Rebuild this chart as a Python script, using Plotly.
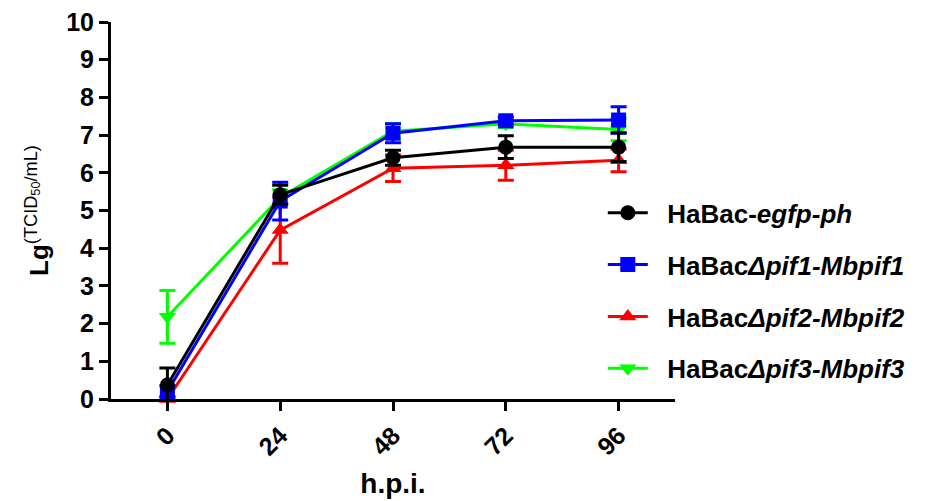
import plotly.graph_objects as go

hours = [0, 24, 48, 72, 96]
x_ticks = [0, 24, 48, 72, 96]
y_ticks = list(range(0, 11))

names = [
    "&nbsp;&nbsp;HaBac-<i>egfp-ph</i>",
    "&nbsp;&nbsp;HaBac<i>Δpif1-Mbpif1</i>",
    "&nbsp;&nbsp;HaBac<i>Δpif2-Mbpif2</i>",
    "&nbsp;&nbsp;HaBac<i>Δpif3-Mbpif3</i>",
]
egfp_vals = [0.37, 5.42, 6.40, 6.68, 6.68]
egfp_err = [0.45, 0.25, 0.20, 0.30, 0.38]
pif1_vals = [0.20, 5.25, 7.05, 7.38, 7.40]
pif1_err = [0.15, 0.50, 0.25, 0.10, 0.35]
pif2_vals = [0.00, 4.48, 6.12, 6.20, 6.33]
pif2_err = [0.05, 0.88, 0.35, 0.40, 0.30]
pif3_vals = [2.18, 5.35, 7.10, 7.30, 7.15]
pif3_err = [0.70, 0.20, 0.20, 0.10, 0.30]

colors = ["#000000", "#0000FF", "#FF0000", "#00FF00"]
symbols = ["circle", "square", "triangle-up", "triangle-down"]
series = [(egfp_vals, egfp_err), (pif1_vals, pif1_err), (pif2_vals, pif2_err), (pif3_vals, pif3_err)]

FONT = "Liberation Sans, Arial, sans-serif"

fig = go.Figure()
# draw green first, black last (on top)
for i in [3, 2, 1, 0]:
    vals, err = series[i]
    fig.add_trace(go.Scatter(
        x=hours, y=vals, name=names[i], mode="lines+markers",
        line=dict(color=colors[i], width=3),
        marker=dict(symbol=symbols[i], size=15, color=colors[i]),
        error_y=dict(type="data", array=err, visible=True, color=colors[i], thickness=3, width=8),
        legendrank=i + 1, legendgroup=f"g{i}", cliponaxis=False,
    ))

# page body has an 8px default margin, so the figure is sized to fit inside the window
fig.update_layout(
    width=917, height=493,
    margin=dict(l=103, r=250, t=14, b=102),
    paper_bgcolor="white", plot_bgcolor="white",
    font=dict(family=FONT, color="black", size=22),
    showlegend=True,
    legend=dict(
        x=0.872, y=0.556, xanchor="left", yanchor="top",
        font=dict(family=FONT, size=26, color="black", weight="bold"),
        tracegroupgap=15, bgcolor="rgba(0,0,0,0)", itemwidth=40,
    ),
    xaxis=dict(
        range=[-12, 108], tickmode="array", tickvals=x_ticks,
        ticktext=[str(v) for v in x_ticks], tickangle=-45,
        showline=True, linecolor="black", linewidth=3,
        ticks="outside", ticklen=9, tickwidth=3, tickcolor="black",
        showgrid=False, zeroline=False, automargin=False, ticklabeloverflow="allow",
        tickfont=dict(family=FONT, size=25, weight="bold"),
        title=dict(text="<b>h.p.i.</b>", font=dict(family=FONT, size=28), standoff=14),
    ),
    yaxis=dict(
        range=[0, 10], tickmode="array", tickvals=y_ticks,
        showline=True, linecolor="black", linewidth=3,
        ticks="outside", ticklen=9, tickwidth=3, tickcolor="black",
        showgrid=False, zeroline=False, automargin=False, ticklabeloverflow="allow",
        tickfont=dict(family=FONT, size=25, weight="bold"),
        title=dict(text="<b>Lg</b><sup>(TCID<sub>50</sub>/mL)</sup>", font=dict(family=FONT, size=26), standoff=11),
    ),
)

fig.write_html("out.html")
